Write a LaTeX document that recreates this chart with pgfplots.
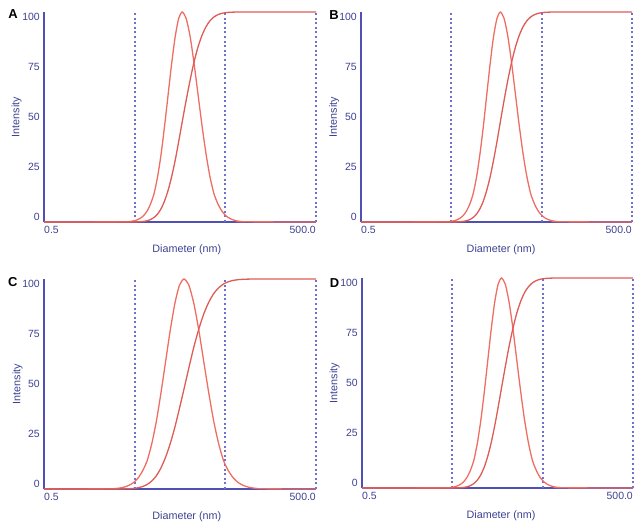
\documentclass[border=0pt]{standalone}
\usepackage{fontspec}
\setmainfont{Liberation Sans}
\usepackage{pgfplots}
\usepackage{pgfplotstable}
\pgfplotsset{compat=1.18}
\definecolor{axblue}{RGB}{80,80,180}
\definecolor{lblblue}{RGB}{60,65,145}
\definecolor{dashblue}{RGB}{112,112,206}
\definecolor{distred}{RGB}{238,110,100}
\definecolor{cumred}{RGB}{222,92,86}

% x = log10(diameter / nm), d = intensity distribution, c = cumulative
\pgfplotstableread{
x d c
-0.30103 0 0
0.603 0.08 0.00
0.642 0.20 0.01
0.680 0.45 0.02
0.719 0.90 0.06
0.758 1.70 0.13
0.797 3.00 0.29
0.836 5.20 0.59
0.874 8.60 1.16
0.913 13.53 2.17
0.952 21.62 3.82
0.991 32.47 6.36
1.029 45.78 10.05
1.068 60.65 15.11
1.107 75.48 21.57
1.146 88.25 29.37
1.184 96.92 38.20
1.223 100 47.60
1.267 96.92 57.94
1.311 88.25 67.67
1.354 75.48 76.25
1.398 60.65 83.37
1.442 45.78 88.93
1.486 32.47 93.00
1.529 21.62 95.80
1.573 13.53 97.61
1.617 8.60 98.72
1.661 5.20 99.35
1.704 3.00 99.69
1.748 1.70 99.86
1.792 0.90 99.94
1.836 0.45 99.98
1.879 0.20 99.99
1.923 0.08 100
2.69897 0 100
}\tabA

\pgfplotstableread{
x d c
-0.30103 0 0
0.641 0.08 0.00
0.679 0.20 0.01
0.716 0.45 0.02
0.754 0.90 0.06
0.791 1.70 0.13
0.829 3.00 0.29
0.866 5.20 0.59
0.904 8.60 1.16
0.941 13.53 2.17
0.979 21.62 3.82
1.016 32.47 6.36
1.054 45.78 10.05
1.091 60.65 15.11
1.129 75.48 21.57
1.166 88.25 29.37
1.204 96.92 38.20
1.241 100 47.60
1.283 96.92 57.94
1.325 88.25 67.67
1.367 75.48 76.25
1.409 60.65 83.37
1.451 45.78 88.93
1.493 32.47 93.00
1.535 21.62 95.80
1.577 13.53 97.61
1.619 8.60 98.72
1.661 5.20 99.35
1.703 3.00 99.69
1.745 1.70 99.86
1.787 0.90 99.94
1.829 0.45 99.98
1.871 0.20 99.99
1.913 0.08 100
2.69897 0 100
}\tabB

\pgfplotstableread{
x d c
-0.30103 0 0
0.431 0.08 0.00
0.482 0.20 0.01
0.533 0.45 0.02
0.583 0.90 0.06
0.634 1.70 0.13
0.685 3.00 0.29
0.736 5.20 0.59
0.786 8.60 1.16
0.837 13.53 2.17
0.888 21.62 3.82
0.939 32.47 6.36
0.989 45.78 10.05
1.040 60.65 15.11
1.091 75.48 21.57
1.142 88.25 29.37
1.192 96.92 38.20
1.243 100 47.60
1.298 96.92 57.94
1.352 88.25 67.67
1.407 75.48 76.25
1.461 60.65 83.37
1.516 45.78 88.93
1.570 32.47 93.00
1.625 21.62 95.80
1.679 13.53 97.61
1.734 8.60 98.72
1.788 5.20 99.35
1.843 3.00 99.69
1.897 1.70 99.86
1.952 0.90 99.94
2.006 0.45 99.98
2.061 0.20 99.99
2.115 0.08 100
2.69897 0 100
}\tabC

\pgfplotstableread{
x d c
-0.30103 0 0
0.635 0.08 0.00
0.673 0.20 0.01
0.711 0.45 0.02
0.749 0.90 0.06
0.787 1.70 0.13
0.825 3.00 0.29
0.863 5.20 0.59
0.901 8.60 1.16
0.939 13.53 2.17
0.977 21.62 3.82
1.015 32.47 6.36
1.053 45.78 10.05
1.091 60.65 15.11
1.129 75.48 21.57
1.167 88.25 29.37
1.205 96.92 38.20
1.243 100 47.60
1.286 96.92 57.94
1.328 88.25 67.67
1.371 75.48 76.25
1.413 60.65 83.37
1.456 45.78 88.93
1.498 32.47 93.00
1.541 21.62 95.80
1.583 13.53 97.61
1.626 8.60 98.72
1.668 5.20 99.35
1.711 3.00 99.69
1.753 1.70 99.86
1.796 0.90 99.94
1.838 0.45 99.98
1.881 0.20 99.99
1.923 0.08 100
2.69897 0 100
}\tabD

\pgfplotsset{
  panel/.style={
    scale only axis, height=210bp,
    xmin=-0.30103, xmax=2.69897, ymin=0, ymax=100,
    axis x line=bottom, axis y line=left,
    axis line style={-, draw=axblue, line width=1.3bp},
    x axis line style={draw=none},
    clip=false,
    major tick length=0pt,
    xtick={-0.30103}, xticklabels={0.5},
    extra x ticks={2.69897}, extra x tick labels={500.0},
    extra x tick style={xticklabel style={anchor=north east}},
    xticklabel style={anchor=north west, inner sep=0pt, yshift=-4bp},
    ytick={2.5,26.25,50,73.75,97.5}, yticklabels={0,25,50,75,100},
    yticklabel style={anchor=east, inner sep=0pt, xshift=-4bp},
    ticklabel style={font=\fontsize{10.5}{12}\selectfont, text=lblblue},
    /pgf/number format/assume math mode=true,
    xlabel={Diameter (nm)}, ylabel={Intensity},
    label style={font=\fontsize{10.8}{12}\selectfont, text=lblblue, inner sep=0pt},
  },
  base/.style={axblue, line width=1.3bp},
  vdash/.style={dashblue, line width=1.8bp, dash pattern=on 2bp off 2.6bp},
  dist/.style={distred, line width=1.3bp, smooth, tension=0.4},
  cum/.style={cumred, line width=1.3bp, smooth, tension=0.4},
}

\newcommand{\panelplots}[1]{%
  \addplot[base] coordinates {(-0.30103,0) (2.69897,0)};
  \addplot[vdash] coordinates {(0.69897,0) (0.69897,100)};
  \addplot[vdash] coordinates {(1.69897,0) (1.69897,100)};
  \addplot[vdash] coordinates {(2.69897,0) (2.69897,100)};
  \addplot[dist] table[x=x,y=d] {#1};
  \addplot[cum] table[x=x,y=c] {#1};
}

\begin{document}
\begin{tikzpicture}[x=1bp,y=1bp]
\path[use as bounding box] (0,0) rectangle (644,532);

\begin{axis}[panel, width=272bp, at={(44bp,310bp)}, anchor=south west,
  xlabel style={at={(axis description cs:0.525,-0.1333)}, anchor=center},
  ylabel style={at={(axis description cs:-0.1011,0.5)}, anchor=center}]
\panelplots{\tabA}
\end{axis}

\begin{axis}[panel, width=271bp, at={(361bp,310bp)}, anchor=south west,
  xlabel style={at={(axis description cs:0.517,-0.1333)}, anchor=center},
  ylabel style={at={(axis description cs:-0.0996,0.5)}, anchor=center}]
\panelplots{\tabB}
\end{axis}

\begin{axis}[panel, width=272bp, at={(44bp,43bp)}, anchor=south west,
  xlabel style={at={(axis description cs:0.525,-0.1333)}, anchor=center},
  ylabel style={at={(axis description cs:-0.0974,0.5)}, anchor=center}]
\panelplots{\tabC}
\end{axis}

\begin{axis}[panel, width=271bp, at={(362bp,44bp)}, anchor=south west,
  xlabel style={at={(axis description cs:0.513,-0.1333)}, anchor=center},
  ylabel style={at={(axis description cs:-0.1015,0.5)}, anchor=center}]
\panelplots{\tabD}
\end{axis}

\node[font=\bfseries\fontsize{13}{14}\selectfont, anchor=center, inner sep=0pt] at (13,518) {A};
\node[font=\bfseries\fontsize{13}{14}\selectfont, anchor=center, inner sep=0pt] at (334,517) {B};
\node[font=\bfseries\fontsize{13}{14}\selectfont, anchor=center, inner sep=0pt] at (12.7,250) {C};
\node[font=\bfseries\fontsize{13}{14}\selectfont, anchor=center, inner sep=0pt] at (334.5,249) {D};
\end{tikzpicture}
\end{document}
